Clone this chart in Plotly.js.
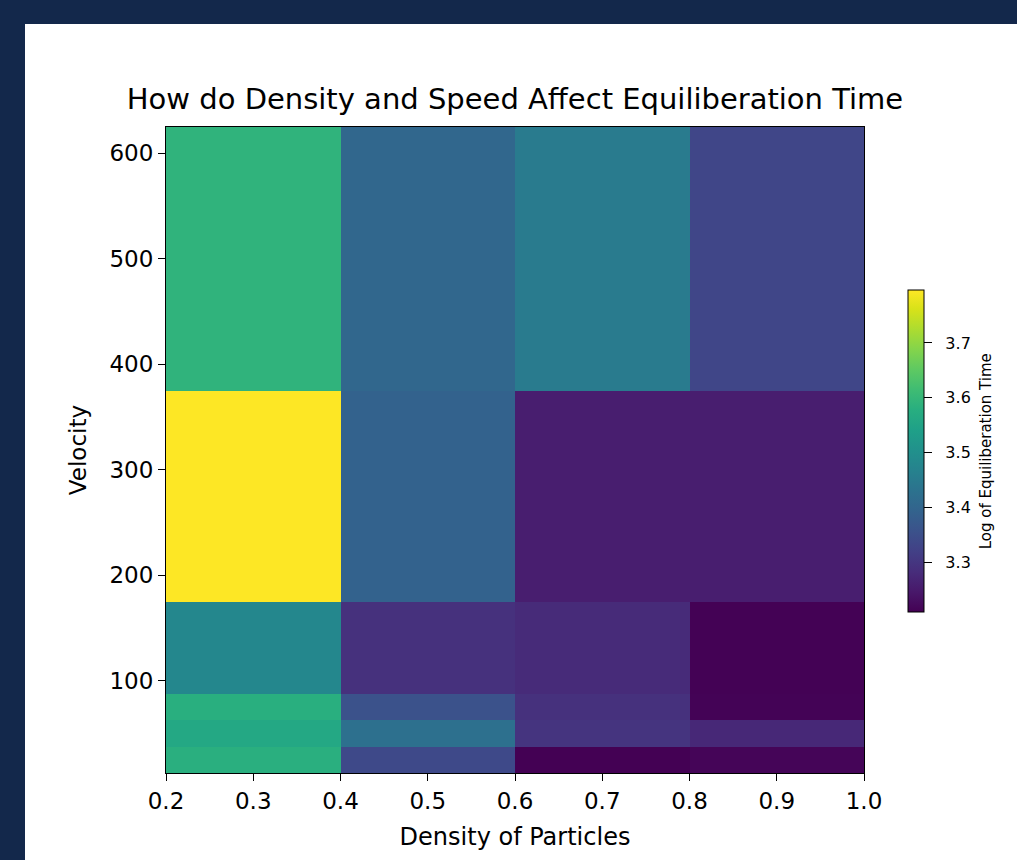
<!DOCTYPE html>
<html>
<head>
<meta charset="utf-8">
<script src="https://cdn.plot.ly/plotly-3.0.1.min.js"></script>
<style>
  html, body { margin: 0; padding: 0; background: #13284b; width: 1017px; height: 860px; overflow: hidden; }
  #chart { position: absolute; left: 25px; top: 24px; width: 992px; height: 836px; background: #ffffff; }
</style>
</head>
<body>
<div id="chart"></div>
<script>
// Density of particles (cell centers) and velocity (cell centers)
const densities = [0.3, 0.5, 0.7, 0.9];
const velocities = [25, 50, 75, 100, 250, 500];

// Log of equiliberation time, one row per velocity
const row_v25  = [3.580, 3.338, 3.209, 3.215];
const row_v50  = [3.561, 3.426, 3.297, 3.274];
const row_v75  = [3.579, 3.356, 3.291, 3.212];
const row_v100 = [3.479, 3.291, 3.279, 3.210];
const row_v250 = [3.796, 3.391, 3.256, 3.256];
const row_v500 = [3.590, 3.403, 3.450, 3.332];

const xTicks = [0.2, 0.3, 0.4, 0.5, 0.6, 0.7, 0.8, 0.9, 1.0];
const yTicks = [100, 200, 300, 400, 500, 600];
const cbTicks = [3.3, 3.4, 3.5, 3.6, 3.7];

const z = [row_v25, row_v50, row_v75, row_v100, row_v250, row_v500];

const FAM = 'DejaVu Sans';

const trace = {
  type: 'heatmap',
  x: densities,
  y: velocities,
  z: z,
  colorscale: 'Viridis',
  zmin: 3.209,
  zmax: 3.796,
  colorbar: {
    x: 1.063, xanchor: 'left', xref: 'paper',
    y: 0.498, yanchor: 'middle', yref: 'paper',
    len: 0.498, lenmode: 'fraction',
    thickness: 16, thicknessmode: 'pixels',
    xpad: 0, ypad: 0,
    outlinewidth: 1, outlinecolor: '#000000',
    tickvals: cbTicks,
    ticktext: cbTicks.map(v => '\u00a0\u00a0' + v.toFixed(1)),
    ticks: 'outside', ticklen: 8, tickcolor: '#000000',
    tickfont: { family: FAM, size: 16, color: '#000000' }
  }
};

const layout = {
  width: 992, height: 836,
  paper_bgcolor: '#ffffff', plot_bgcolor: '#ffffff',
  margin: { l: 141, r: 153, t: 103, b: 87 },
  font: { family: FAM, color: '#000000' },
  title: {
    text: 'How do Density and Speed Affect Equiliberation Time',
    x: 0.5, xref: 'paper', xanchor: 'center',
    y: 1 - 75 / 836, yref: 'container', yanchor: 'middle',
    font: { family: FAM, size: 29, color: '#000000' }
  },
  xaxis: {
    range: [0.2, 1.0],
    tickvals: xTicks,
    ticktext: xTicks.map(v => v.toFixed(1)),
    ticks: 'outside', ticklen: 7, tickcolor: '#000000',
    showline: true, mirror: true, linecolor: '#000000', linewidth: 1,
    showgrid: false, zeroline: false,
    tickfont: { family: FAM, size: 23, color: '#000000' },
    title: { text: 'Density of Particles', standoff: 15, font: { family: FAM, size: 24, color: '#000000' } }
  },
  yaxis: {
    range: [12.5, 625],
    tickvals: yTicks,
    ticks: 'outside', ticklen: 7, tickcolor: '#000000',
    showline: true, mirror: true, linecolor: '#000000', linewidth: 1,
    showgrid: false, zeroline: false,
    tickfont: { family: FAM, size: 23, color: '#000000' },
    title: { text: 'Velocity', standoff: 16, font: { family: FAM, size: 23, color: '#000000' } }
  },
  annotations: [{
    text: 'Log of Equiliberation Time',
    xref: 'paper', yref: 'paper',
    x: (961 - 141) / 698, y: 0.498,
    xanchor: 'center', yanchor: 'middle',
    textangle: -90, showarrow: false,
    font: { family: FAM, size: 15, color: '#000000' }
  }]
};

Plotly.newPlot('chart', [trace], layout, { displayModeBar: false, staticPlot: true });
</script>
</body>
</html>
